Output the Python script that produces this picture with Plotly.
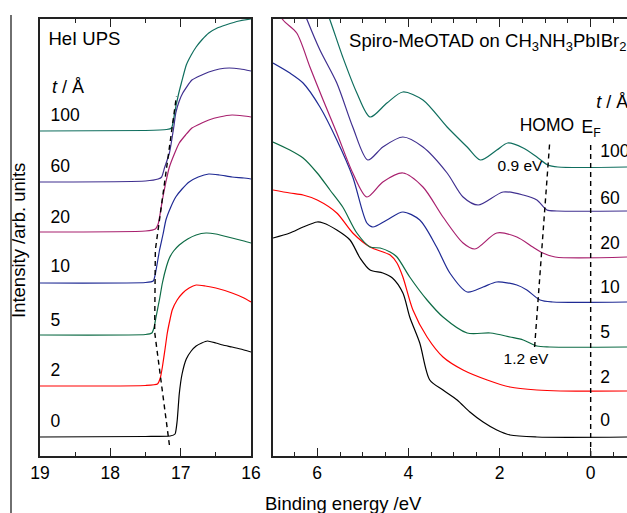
import plotly.graph_objects as go

# ---------------- data ----------------
labels = ["0", "2", "5", "10", "20", "60", "100"]
colors = ["#000000", "#ff0000", "#0d6b45", "#1f2a94", "#a8206e", "#3f2f8f", "#0f6e5e"]

# Left panel: secondary electron cut-off (binding energy eV, intensity arb.)
cut_E = {
    "0":   [19, 17.5, 17.15, 17.08, 17.05, 17.02, 16.98, 16.92, 16.85, 16.78, 16.7, 16.62, 16.5, 16.4, 16.27, 16.15, 16.0],
    "2":   [19, 17.5, 17.33, 17.29, 17.26, 17.22, 17.19, 17.15, 17.12, 17.05, 16.97, 16.88, 16.78, 16.65, 16.5, 16.27, 16.1, 16.0],
    "5":   [19, 17.5, 17.41, 17.38, 17.35, 17.3, 17.26, 17.2, 17.16, 17.1, 17.02, 16.9, 16.78, 16.64, 16.5, 16.27, 16.1, 16.0],
    "10":  [19, 17.5, 17.39, 17.36, 17.33, 17.3, 17.25, 17.21, 17.14, 17.07, 16.98, 16.88, 16.75, 16.6, 16.45, 16.27, 16.1, 16.0],
    "20":  [19, 17.5, 17.36, 17.32, 17.29, 17.26, 17.21, 17.16, 17.09, 17.02, 16.93, 16.84, 16.7, 16.6, 16.45, 16.27, 16.1, 16.0],
    "60":  [19, 17.5, 17.32, 17.27, 17.23, 17.16, 17.1, 17.07, 17.02, 16.97, 16.84, 16.7, 16.6, 16.45, 16.31, 16.15, 16.0],
    "100": [19, 17.5, 17.2, 17.13, 17.1, 17.07, 17.03, 16.99, 16.92, 16.85, 16.78, 16.7, 16.6, 16.48, 16.36, 16.17, 16.0],
}
cut_I = {
    "0":   [19, 19.5, 20, 22, 35, 62, 82, 97, 105, 110, 113, 115, 113, 111, 109, 107, 104],
    "2":   [70, 70.5, 72, 78, 89, 108, 123, 137, 146, 156, 163, 168, 171, 170, 168, 163, 158, 154],
    "5":   [121, 121.5, 123, 128, 139, 157, 173, 190, 198, 205, 211, 217, 221, 223, 222, 218, 215, 213],
    "10":  [173, 173.5, 175, 182, 194, 206, 222, 236, 249, 259, 267, 274, 279, 282, 281, 279, 278, 277],
    "20":  [224, 225, 227, 232, 243, 256, 274, 289, 302, 313, 321, 328, 333, 336, 339, 341, 340, 339],
    "60":  [274, 275, 277, 279, 288, 303, 328, 343, 355, 363, 376, 381, 384, 387, 388, 387, 385],
    "100": [325, 325.5, 326.5, 328, 337, 349, 362, 373, 391, 401, 409, 416, 423, 428, 431, 435, 437],
}

# Right panel: valence band region
vb_E = {
    "0":   [6.97, 6.6, 6.31, 6.0, 5.87, 5.57, 5.28, 5.06, 4.84, 4.56, 4.35, 4.12, 3.97, 3.75, 3.53, 3.24, 2.93, 2.65, 2.36, 2.06, 1.77, 1.18, -0.8],
    "2":   [6.97, 6.6, 6.31, 6.0, 5.57, 5.22, 4.84, 4.4, 4.25, 4.12, 3.9, 3.59, 3.24, 2.8, 2.27, 1.77, 1.18, 0.67, -0.8],
    "5":   [6.97, 6.6, 6.31, 6.0, 5.72, 5.44, 5.13, 4.84, 4.62, 4.4, 4.25, 3.97, 3.59, 3.24, 2.71, 2.2, 1.77, 1.48, 1.18, 0.9, -0.8],
    "10":  [6.97, 6.6, 6.31, 5.94, 5.57, 5.22, 4.91, 4.78, 4.47, 4.12, 3.75, 3.38, 3.09, 2.71, 2.36, 2.06, 1.62, 1.4, 1.11, 0.83, -0.8],
    "20":  [6.97, 6.75, 6.45, 6.16, 5.87, 5.57, 5.22, 4.91, 4.56, 4.12, 3.68, 3.24, 2.8, 2.54, 2.06, 1.62, 1.27, 1.05, 0.78, -0.8],
    "60":  [6.5, 6.22, 5.94, 5.57, 5.22, 4.89, 4.56, 4.12, 3.68, 3.15, 2.8, 2.47, 1.92, 1.48, 1.18, 0.96, 0.74, -0.8],
    "100": [6.0, 5.72, 5.44, 5.13, 4.84, 4.47, 4.12, 3.68, 3.15, 2.71, 2.42, 2.06, 1.82, 1.48, 1.18, 0.94, 0.72, -0.8],
}
vb_I = {
    "0":   [218, 223, 229, 234, 233, 226, 216, 198, 186, 183, 178, 163, 139, 113, 76, 66, 56, 44, 34, 26, 21, 19, 19],
    "2":   [266, 263, 261, 256, 243, 223, 209, 201, 193, 179, 146, 119, 99, 86, 76, 69, 66, 65, 65],
    "5":   [314, 306, 298, 283, 266, 249, 223, 209, 208, 204, 199, 179, 156, 139, 123, 123, 119, 116, 110, 109, 109],
    "10":  [393, 383, 373, 349, 316, 279, 233, 229, 236, 244, 236, 209, 183, 164, 169, 174, 171, 166, 156, 154, 154],
    "20":  [455, 436, 423, 389, 356, 323, 283, 259, 274, 283, 269, 239, 213, 207, 223, 219, 209, 203, 199, 199],
    "60":  [470, 436, 406, 373, 329, 296, 309, 319, 309, 283, 259, 251, 264, 261, 256, 246, 245, 245],
    "100": [470, 436, 399, 363, 339, 353, 364, 356, 329, 309, 296, 306, 313, 308, 299, 291, 289, 289],
}

# guide lines (dashed)
cutoff_guide_E = [17.16, 17.37, 17.36, 17.06]
cutoff_guide_I = [11, 124, 206, 360]
homo_guide_E = [1.23, 0.9]
homo_guide_I = [109, 313]
ef_guide_E = [0, 0]
ef_guide_I = [0, 313]

# label positions (intensity of each thickness label)
left_label_I = [33, 84, 134, 188, 237, 288, 339]
right_label_I = [34, 77, 122, 167, 211, 256, 303]

FONT = "Liberation Sans, Arial, sans-serif"

fig = go.Figure()
for lab, col in zip(labels, colors):
    fig.add_trace(go.Scatter(x=cut_E[lab], y=cut_I[lab], mode="lines",
                             line=dict(color=col, width=1.2, shape="spline", smoothing=0.5),
                             xaxis="x", yaxis="y", showlegend=False, hoverinfo="skip"))
    fig.add_trace(go.Scatter(x=vb_E[lab], y=vb_I[lab], mode="lines",
                             line=dict(color=col, width=1.2, shape="spline", smoothing=0.8),
                             xaxis="x2", yaxis="y2", showlegend=False, hoverinfo="skip"))

dash = dict(color="black", width=1.4, dash="5px,4px")
fig.add_trace(go.Scatter(x=cutoff_guide_E, y=cutoff_guide_I, mode="lines", line=dash,
                         xaxis="x", yaxis="y", showlegend=False, hoverinfo="skip"))
fig.add_trace(go.Scatter(x=homo_guide_E, y=homo_guide_I, mode="lines", line=dash,
                         xaxis="x2", yaxis="y2", showlegend=False, hoverinfo="skip"))
fig.add_trace(go.Scatter(x=ef_guide_E, y=ef_guide_I, mode="lines", line=dash,
                         xaxis="x2", yaxis="y2", showlegend=False, hoverinfo="skip"))


def txt(texts, xs, ys, ax, ay, size=17.5, pos="middle right"):
    # text drawn inside the subplot and clipped to it (like the cropped original)
    fig.add_trace(go.Scatter(x=xs, y=ys, text=texts, mode="text", textposition=pos,
                             textfont=dict(family=FONT, size=size, color="black"),
                             cliponaxis=True, xaxis=ax, yaxis=ay,
                             showlegend=False, hoverinfo="skip"))


# left panel texts
txt(["HeI UPS"], [18.88], [416], "x", "y", size=18.5)
txt(["<i>t</i> / Å"], [18.83], [368], "x", "y", size=18)
txt(labels, [18.85] * len(labels), left_label_I, "x", "y")

# right panel texts
txt(["Spiro-MeOTAD on CH<sub>3</sub>NH<sub>3</sub>PbIBr<sub>2</sub>"], [5.3], [414], "x2", "y2", size=18.5)
txt(["<i>t</i> / Å"], [-0.12], [353], "x2", "y2", size=18)
txt(["HOMO"], [0.96], [329], "x2", "y2", pos="middle center")
txt(["E<sub>F</sub>"], [0.2], [327], "x2", "y2")
txt(["0.9 eV"], [1.55], [289], "x2", "y2", size=15.5, pos="middle center")
txt(["1.2 eV"], [1.42], [96], "x2", "y2", size=15.5, pos="middle center")
txt(labels, [-0.21] * len(labels), right_label_I, "x2", "y2")

W, H = 627, 513
ydom = [1 - 456 / H, 1 - 19 / H]
axis_common = dict(showgrid=False, zeroline=False, linecolor="#222", linewidth=1.5,
                   ticks="inside", tickcolor="#222", tickwidth=1.3,
                   tickfont=dict(family=FONT, size=17.5, color="black"))

fig.update_layout(
    width=W, height=H, margin=dict(l=0, r=0, t=0, b=0, autoexpand=False),
    paper_bgcolor="white", plot_bgcolor="white",
    xaxis=dict(domain=[40 / W, 251 / W], range=[19, 16], dtick=1, tick0=16,
               ticklen=8, showline=True, mirror="allticks", automargin=False,
               minor=dict(dtick=0.5, tick0=16, ticklen=4, ticks="inside", tickcolor="#222"),
               **axis_common),
    yaxis=dict(domain=ydom, range=[0, 437], showticklabels=False, showline=True,
               mirror=True, ticks="", showgrid=False, zeroline=False, automargin=False,
               linecolor="#222", linewidth=1.5),
    xaxis2=dict(domain=[273 / W, 1.0], range=[6.97, -0.797], dtick=2, tick0=0,
                ticklen=8, showline=True, mirror="allticks", anchor="y2", automargin=False,
                minor=dict(dtick=0.5, tick0=0, ticklen=4, ticks="inside", tickcolor="#222"),
                **axis_common),
    yaxis2=dict(domain=ydom, range=[0, 437], showticklabels=False, showline=True,
                mirror=False, ticks="", showgrid=False, zeroline=False, anchor="x2",
                automargin=False, linecolor="#222", linewidth=1.5),
)

ann = [
    dict(text="Intensity /arb. units", x=18 / W, y=1 - 241 / H, xref="paper", yref="paper",
         showarrow=False, xanchor="center", yanchor="middle", textangle=-90,
         font=dict(family=FONT, size=18.5, color="black")),
    dict(text="Binding energy /eV", x=343 / W, y=1 - 503 / H, xref="paper", yref="paper",
         showarrow=False, xanchor="center", yanchor="middle",
         font=dict(family=FONT, size=18.5, color="black")),
]
fig.update_layout(annotations=ann)

# page border line at far left
fig.add_shape(type="line", xref="paper", yref="paper", x0=11 / W, x1=11 / W,
              y0=0, y1=1 - 15 / H, line=dict(color="#222", width=1.3))

fig.write_html("out.html", config={"displayModeBar": False})
